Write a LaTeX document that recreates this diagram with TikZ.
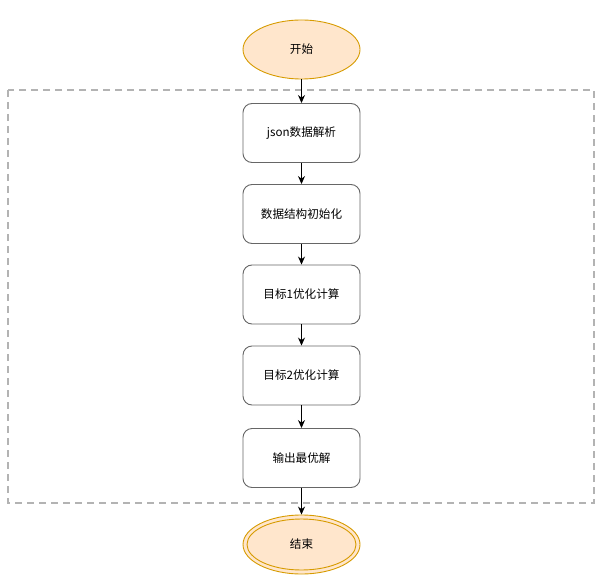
\documentclass[tikz,border=0pt]{standalone}
\usepackage{fontspec}
\setmainfont{Noto Sans CJK SC}
\usetikzlibrary{shapes.geometric,arrows.meta}
\definecolor{termfill}{HTML}{FFE6CC}
\definecolor{termdraw}{HTML}{D79B00}
\definecolor{boxdraw}{HTML}{666666}
\definecolor{groupdraw}{HTML}{B3B3B3}
\tikzset{
  term/.style={ellipse, draw=termdraw, fill=termfill, line width=0.9pt, minimum width=117pt, minimum height=59pt, inner sep=0pt, font=\fontsize{11.6}{13}\selectfont},
  procbox/.style={rectangle, rounded corners=9pt, draw=boxdraw, fill=white, line width=0.9pt, minimum width=117pt, minimum height=59pt, inner sep=0pt, font=\fontsize{11.6}{13}\selectfont},
  flow/.style={draw=black, line width=0.9pt, -{Stealth[length=8pt,width=7pt]}},
  group/.style={draw=groupdraw, line width=1.6pt, dash pattern=on 7pt off 5pt}
}
\begin{document}
\begin{tikzpicture}[x=1pt,y=-1pt]
\useasboundingbox (0,0) rectangle (604,585);
\draw[group] (8,90) rectangle (594,503);
\node[term] (start) at (301.5,49.5) {开始};
\node[procbox] (b1) at (301.5,133) {json数据解析};
\node[procbox] (b2) at (301.5,214) {数据结构初始化};
\node[procbox] (b3) at (301.5,294.5) {目标1优化计算};
\node[procbox] (b4) at (301.5,375.5) {目标2优化计算};
\node[procbox] (b5) at (301.5,458) {输出最优解};
\node[term] (end) at (301.5,544.5) {};
\node[ellipse, draw=termdraw, line width=0.9pt, minimum width=109pt, minimum height=51pt, inner sep=0pt, font=\fontsize{11.6}{13}\selectfont] (endin) at (end.center) {结束};
\draw[flow] (start) -- (b1);
\draw[flow] (b1) -- (b2);
\draw[flow] (b2) -- (b3);
\draw[flow] (b3) -- (b4);
\draw[flow] (b4) -- (b5);
\draw[flow] (b5) -- (end);
\end{tikzpicture}
\end{document}
